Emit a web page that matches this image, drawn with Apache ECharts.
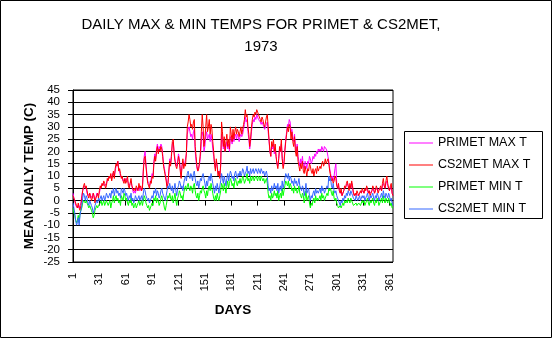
<!DOCTYPE html>
<html>
<head>
<meta charset="utf-8">
<script src="https://cdn.jsdelivr.net/npm/echarts@6/dist/echarts.min.js"></script>
<style>
  html, body { margin: 0; padding: 0; background: #fff; }
  #chart { width: 552px; height: 338px; }
</style>
</head>
<body>
<div id="chart"></div>
<script>
// Day-of-year categories 1..365
const days = Array.from({ length: 365 }, (_, i) => String(i + 1));

const seriesNames = ['PRIMET MAX T', 'CS2MET MAX T', 'PRIMET MIN T', 'CS2MET MIN T'];

// Daily maximum temperature (C), PRIMET
const primetMax = [
  3, 1, 0, -2, -2, -3, -2, -3, -3, -1,
  2, 4, 5, 6, 6, 5, 3, 2, 2, 3,
  1, 1, 2, 3, 1, 0, 1, 3, 2, 2,
  3, 5, 6, 6, 7, 7, 6, 6, 7, 8,
  9, 9, 10, 10, 9, 11, 11, 10, 12, 14,
  15, 16, 13, 12, 10, 10, 9, 8, 8, 9,
  8, 9, 9, 7, 6, 7, 8, 6, 4, 3,
  4, 3, 5, 4, 4, 6, 4, 5, 4, 6,
  13, 18, 20, 15, 11, 8, 7, 6, 7, 7,
  11, 10, 16, 19, 17, 21, 23, 20, 22, 21,
  23, 22, 19, 15, 13, 11, 9, 6, 7, 11,
  17, 15, 19, 23, 24, 20, 17, 15, 14, 16,
  19, 17, 13, 10, 14, 16, 14, 15, 15, 19,
  27, 29, 30, 28, 26, 27, 25, 28, 29, 20,
  16, 13, 12, 12, 15, 18, 24, 28, 26, 20,
  22, 26, 28, 25, 26, 27, 24, 27, 25, 21,
  18, 15, 13, 16, 14, 11, 12, 10, 14, 27,
  25, 21, 23, 20, 22, 24, 21, 23, 20, 26,
  25, 23, 26, 24, 26, 27, 25, 27, 26, 24,
  26, 27, 26, 27, 29, 31, 34, 32, 33, 28,
  25, 21, 24, 28, 31, 33, 32, 34, 33, 35,
  34, 33, 33, 32, 31, 32, 31, 30, 29, 30,
  31, 32, 28, 24, 20, 18, 22, 21, 23, 19,
  21, 18, 15, 14, 17, 21, 20, 23, 17, 14,
  16, 21, 25, 28, 31, 30, 33, 32, 28, 29,
  26, 24, 27, 22, 20, 23, 18, 16, 14, 17,
  15, 18, 14, 13, 16, 15, 13, 16, 15, 18,
  17, 15, 16, 18, 17, 19, 18, 20, 19, 21,
  20, 21, 20, 22, 21, 20, 22, 22, 21, 20,
  18, 16, 13, 11, 9, 10, 8, 10, 13, 15,
  7, 5, 6, 4, 3, 4, 2, 3, 4, 5,
  5, 6, 7, 6, 5, 6, 5, 7, 5, 3,
  2, 2, 3, 3, 2, 2, 3, 3, 3, 4,
  4, 3, 4, 4, 5, 5, 3, 4, 3, 3,
  4, 5, 5, 3, 4, 5, 5, 4, 4, 5,
  5, 4, 6, 7, 6, 5, 7, 8, 6, 5,
  4, 5, 6, 3, 2
];

// Daily maximum temperature (C), CS2MET
const cs2metMax = [
  2, 1, 0, -1, -2, -3, -1, -3, -4, -2,
  1, 4, 6, 7, 5, 6, 4, 2, 1, 3,
  2, 0, 1, 3, 2, -1, 1, 2, 3, 1,
  4, 6, 5, 7, 6, 8, 7, 5, 6, 9,
  8, 10, 9, 11, 8, 10, 12, 9, 13, 15,
  14, 16, 12, 13, 11, 9, 10, 8, 7, 9,
  7, 8, 10, 6, 5, 7, 9, 6, 5, 4,
  5, 4, 6, 5, 4, 7, 5, 6, 4, 5,
  12, 17, 18, 14, 10, 7, 6, 5, 8, 7,
  10, 9, 15, 18, 16, 20, 22, 19, 21, 20,
  22, 21, 18, 14, 12, 10, 8, 5, 7, 12,
  16, 14, 18, 24, 25, 19, 16, 14, 13, 15,
  18, 16, 12, 9, 14, 17, 13, 15, 14, 20,
  30, 32, 35, 33, 30, 31, 29, 32, 33, 22,
  18, 14, 12, 13, 16, 20, 28, 35, 30, 22,
  25, 30, 35, 28, 30, 33, 27, 31, 29, 24,
  20, 15, 12, 17, 14, 10, 12, 9, 15, 32,
  28, 22, 26, 20, 24, 27, 22, 25, 21, 30,
  27, 24, 29, 25, 28, 30, 27, 29, 28, 26,
  28, 30, 27, 29, 31, 33, 37, 34, 35, 30,
  27, 22, 25, 30, 33, 35, 34, 36, 35, 37,
  36, 35, 34, 33, 32, 34, 33, 31, 30, 32,
  34, 35, 30, 25, 20, 18, 24, 22, 25, 20,
  23, 18, 15, 13, 17, 22, 20, 25, 17, 13,
  15, 20, 24, 27, 30, 28, 31, 30, 25, 28,
  24, 22, 26, 20, 18, 22, 16, 14, 12, 15,
  13, 16, 12, 11, 14, 12, 10, 13, 12, 15,
  14, 12, 11, 13, 10, 12, 13, 11, 14, 12,
  13, 14, 13, 15, 16, 14, 15, 17, 15, 16,
  17, 15, 12, 10, 8, 9, 7, 8, 10, 9,
  6, 5, 7, 4, 3, 5, 2, 3, 4, 6,
  5, 7, 8, 6, 4, 7, 5, 8, 6, 3,
  2, 3, 2, 4, 3, 2, 3, 4, 3, 5,
  4, 3, 5, 4, 6, 5, 3, 4, 2, 3,
  4, 6, 5, 3, 4, 6, 5, 3, 4, 5,
  6, 4, 7, 9, 6, 5, 8, 10, 7, 5,
  4, 6, 7, 3, 2
];

// Daily minimum temperature (C), PRIMET
const primetMin = [
  -3, -5, -6, -8, -9, -8, -6, -9, -5, -4,
  -3, -1, 0, 0, -1, 0, -1, -2, -3, -2,
  -3, -4, -5, -7, -6, -4, -3, -2, -3, -2,
  -2, -1, 0, -2, -1, 0, -2, -1, 0, -1,
  -2, -1, 0, -3, -1, 0, 2, -1, 1, 2,
  0, 1, -1, 0, -2, 2, 1, 0, 3, 2,
  0, 1, -1, -2, 0, -1, 1, -2, -1, -3,
  -2, -1, -3, -2, -1, 0, -2, -1, 0, -2,
  0, 2, 1, -1, -2, -3, -2, -4, -3, -2,
  -1, -2, 1, 0, 2, -1, 1, 0, -2, -1,
  1, 2, 0, -1, -3, -4, -2, 0, 2, 1,
  3, 1, 0, 2, -1, 1, 3, 0, -2, 1,
  2, 4, 3, 1, 2, 0, 3, 5, 6, 4,
  6, 7, 5, 4, 6, 5, 3, 6, 7, 4,
  2, 1, 3, 0, 2, 4, 3, 5, 6, 4,
  3, 1, 4, 2, 5, 6, 4, 7, 5, 3,
  1, 0, 2, 0, 3, 1, 0, 2, 4, 7,
  6, 4, 7, 5, 3, 6, 8, 5, 7, 9,
  8, 6, 7, 5, 8, 9, 7, 6, 8, 7,
  9, 7, 8, 10, 9, 7, 8, 9, 11, 8,
  9, 7, 10, 8, 9, 10, 8, 9, 10, 9,
  8, 10, 9, 8, 10, 9, 8, 9, 7, 8,
  9, 7, 3, 1, 2, 0, 3, 1, 2, 4,
  2, 3, 1, 4, 0, 2, 3, 1, 5, 2,
  4, 6, 8, 7, 6, 8, 5, 7, 6, 4,
  5, 3, 6, 4, 5, 3, 4, 6, 3, 2,
  1, 3, 2, -1, 1, 4, 0, 1, 2, -1,
  -3, -1, -2, 0, 1, -1, 2, 0, 1, 0,
  1, 2, 0, 3, 1, 2, 0, 1, 2, 3,
  2, 5, 4, 5, 3, 2, 4, 1, 0, 1,
  -1, -2, -3, -3, -2, -3, -2, -1, -2, 0,
  -1, 0, -1, 1, 0, -1, 1, 0, -1, -2,
  -2, -2, -1, -2, -2, -1, -1, -2, -1, 0,
  -1, 0, -2, -1, 0, 1, -1, -2, 0, -1,
  0, 1, -1, -2, 0, -1, 1, 0, -2, -1,
  0, 1, -1, 2, 0, -1, 1, 0, -1, 1,
  0, -2, -1, -3, -3
];

// Daily minimum temperature (C), CS2MET
const cs2metMin = [
  -1, -3, -5, -8, -10, -9, -7, -10, -6, -4,
  -2, 1, 3, 2, 0, 2, 1, -1, -2, 0,
  -1, -2, -3, -5, -4, -2, -1, 0, -1, 1,
  0, 1, 2, 0, 1, 2, 0, 1, 3, 2,
  1, 2, 3, 1, 4, 3, 5, 2, 4, 5,
  3, 4, 2, 3, 1, 5, 4, 3, 5, 4,
  2, 3, 1, 0, 2, 1, 3, 0, 1, -1,
  0, 2, 1, 0, 1, 2, 0, 1, 2, 0,
  3, 5, 4, 2, 1, 0, 1, -1, 0, 1,
  2, 1, 4, 3, 5, 2, 4, 3, 1, 2,
  4, 5, 3, 2, 1, 0, 2, 4, 6, 5,
  7, 5, 4, 6, 3, 5, 7, 4, 2, 5,
  6, 8, 7, 5, 6, 4, 7, 9, 10, 8,
  11, 12, 10, 9, 11, 10, 8, 11, 12, 9,
  7, 6, 8, 5, 7, 9, 8, 10, 11, 9,
  7, 5, 8, 6, 9, 10, 8, 11, 9, 7,
  5, 3, 6, 4, 7, 5, 3, 6, 8, 11,
  9, 7, 10, 8, 6, 9, 11, 8, 10, 12,
  11, 9, 10, 8, 11, 12, 10, 9, 11, 10,
  12, 10, 11, 13, 12, 10, 11, 12, 14, 11,
  12, 10, 13, 11, 12, 13, 11, 12, 13, 12,
  11, 13, 12, 11, 13, 12, 11, 12, 10, 11,
  12, 10, 6, 4, 5, 3, 6, 4, 5, 7,
  5, 6, 4, 7, 3, 5, 6, 4, 8, 5,
  7, 9, 11, 10, 9, 11, 8, 10, 9, 7,
  8, 6, 9, 7, 8, 6, 7, 9, 6, 5,
  4, 6, 5, 2, 4, 7, 3, 4, 5, 2,
  0, 2, 1, 3, 4, 2, 5, 3, 4, 3,
  4, 5, 3, 6, 4, 5, 3, 4, 5, 6,
  5, 10, 8, 9, 6, 5, 7, 4, 3, 4,
  2, 1, 0, -1, -2, 0, -1, 1, 0, 2,
  1, 3, 2, 4, 3, 2, 4, 3, 2, 1,
  1, 0, 2, 1, 0, 1, 2, 0, 1, 2,
  1, 2, 0, 1, 2, 3, 1, 0, 2, 1,
  2, 3, 1, 0, 2, 1, 3, 2, 0, 1,
  2, 3, 1, 4, 2, 1, 3, 2, 1, 3,
  2, 0, 1, -1, -2
];

const seriesData = [primetMax, cs2metMax, primetMin, cs2metMin];
const seriesColors = ['#FF00FF', '#FF0000', '#00FF00', '#3366FF'];

const FONT = '"Liberation Sans", Arial, sans-serif';

const chart = echarts.init(document.getElementById('chart'), null, { renderer: 'canvas' });

const yCommon = {
  type: 'value',
  min: -25,
  max: 45,
  interval: 5,
  position: 'left'
};

chart.setOption({
  animation: false,
  backgroundColor: '#ffffff',
  textStyle: { fontFamily: FONT, color: '#000' },
  grid: {
    left: 73, top: 90, right: 159, bottom: 76,
    show: true, borderColor: '#000', borderWidth: 1, backgroundColor: 'transparent'
  },
  legend: {
    orient: 'vertical',
    left: 409,
    top: 136,
    padding: 0,
    icon: 'rect',
    itemWidth: 24,
    itemHeight: 1,
    itemGap: 8,
    textStyle: { fontFamily: FONT, fontSize: 12.5, color: '#000', lineHeight: 14 },
    data: seriesNames
  },
  xAxis: {
    type: 'category',
    data: days,
    boundaryGap: false,
    axisLine: { show: true, lineStyle: { color: '#000', width: 1 } },
    axisTick: { show: true, interval: 29, length: 5, lineStyle: { color: '#000' } },
    axisLabel: {
      interval: 29, rotate: 90, margin: 11,
      fontFamily: FONT, fontSize: 11, color: '#000'
    },
    splitLine: { show: false }
  },
  yAxis: [
    Object.assign({}, yCommon, {
      axisLine: { show: true, lineStyle: { color: '#000', width: 1 } },
      axisTick: { show: true, length: 5, lineStyle: { color: '#000' } },
      axisLabel: { margin: 13, fontFamily: FONT, fontSize: 11.5, color: '#000' },
      splitLine: { show: true, lineStyle: { color: '#000', width: 1 } }
    }),
    Object.assign({}, yCommon, {
      axisLine: { show: false },
      axisTick: { show: true, inside: true, length: 5, lineStyle: { color: '#000' } },
      axisLabel: { show: false },
      splitLine: { show: false }
    })
  ],
  series: seriesNames.map((name, i) => ({
    name: name,
    type: 'line',
    data: seriesData[i],
    yAxisIndex: 0,
    symbol: 'none',
    color: seriesColors[i],
    itemStyle: { color: seriesColors[i] },
    lineStyle: { color: seriesColors[i], width: 1 },
    emphasis: { disabled: true },
    z: 2 + i
  })),
  graphic: [
    {
      type: 'rect', silent: true, z: 100,
      shape: { x: 0.5, y: 0.5, width: 551, height: 337 },
      style: { fill: 'none', stroke: '#000', lineWidth: 1 }
    },
    {
      type: 'rect', silent: true, z: 100,
      shape: { x: 404.5, y: 131.5, width: 138, height: 87 },
      style: { fill: 'none', stroke: '#000', lineWidth: 1 }
    },
    {
      type: 'text', silent: true, z: 100, x: 261, y: 25,
      style: { text: 'DAILY MAX & MIN TEMPS FOR PRIMET & CS2MET,', fontFamily: FONT, fontSize: 15, fill: '#000', align: 'center', verticalAlign: 'middle' }
    },
    {
      type: 'text', silent: true, z: 100, x: 261, y: 47,
      style: { text: '1973', fontFamily: FONT, fontSize: 15, fill: '#000', align: 'center', verticalAlign: 'middle' }
    },
    {
      type: 'text', silent: true, z: 100, x: 233, y: 310,
      style: { text: 'DAYS', fontFamily: FONT, fontSize: 13.5, fontWeight: 'bold', fill: '#000', align: 'center', verticalAlign: 'middle' }
    },
    {
      type: 'text', silent: true, z: 100, x: 29, y: 176, rotation: Math.PI / 2,
      style: { text: 'MEAN DAILY TEMP (C)', fontFamily: FONT, fontSize: 13.5, fontWeight: 'bold', fill: '#000', align: 'center', verticalAlign: 'middle' }
    }
  ]
});
</script>
</body>
</html>
